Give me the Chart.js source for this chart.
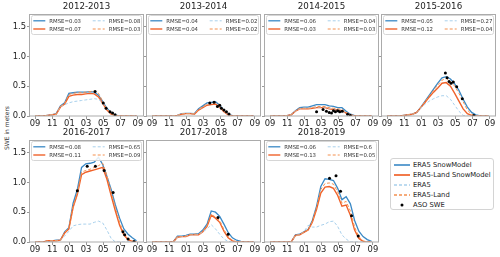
<!DOCTYPE html>
<html>
<head>
<meta charset="utf-8">
<script src="https://cdn.jsdelivr.net/npm/chart.js@4/dist/chart.umd.min.js"></script>
<style>
  body { margin: 0; width: 500px; height: 257px; overflow: hidden; background: #fff; position: relative; font-family: "DejaVu Sans", sans-serif; }
  canvas { position: absolute; }
  #ylabel { position: absolute; left: 6px; top: 128px; transform: translate(-50%, -50%) rotate(-90deg); font-size: 6px; color: #333; white-space: nowrap; }
  #legend { position: absolute; left: 390px; top: 158px; width: 104px; height: 52px; border: 1px solid #d4d4d4; border-radius: 3px; box-sizing: border-box; }
  #legend .row { position: absolute; left: 2px; height: 10px; font-size: 6.8px; color: #222; line-height: 10px; }
  #legend svg { position: absolute; left: 0; top: 0; }
  #legend span { position: absolute; left: 20px; top: 0; white-space: nowrap; }
</style>
</head>
<body>
<div id="ylabel">SWE in meters</div>
<div id="legend"></div>
<script>
const seasons = ["2012-2013", "2013-2014", "2014-2015", "2015-2016", "2016-2017", "2017-2018", "2018-2019"];
// days since 1 September, every 15 days
const days = [0, 15, 30, 45, 60, 75, 90, 105, 120, 135, 150, 165, 180, 195, 210, 225, 240, 255, 270, 285, 300, 315, 330, 345, 360];
const monthTicks = [0, 61, 122, 181, 242, 303, 365];
const monthLabels = ["09", "11", "01", "03", "05", "07", "09"];
const sweTicks = [0, 0.5, 1.0, 1.5];

const era5SnowModel = [
    [0, 0, 0, 0.01, 0.02, 0.04, 0.17, 0.22, 0.38, 0.39, 0.40, 0.40, 0.40, 0.41, 0.40, 0.35, 0.24, 0.13, 0.05, 0.015, 0, 0, 0, 0, 0],
    [0, 0, 0, 0, 0, 0, 0.01, 0.04, 0.045, 0.045, 0.04, 0.12, 0.17, 0.22, 0.23, 0.24, 0.18, 0.09, 0.03, 0.005, 0, 0, 0, 0, 0],
    [0, 0, 0, 0, 0.005, 0.02, 0.09, 0.14, 0.15, 0.15, 0.17, 0.19, 0.19, 0.19, 0.17, 0.16, 0.14, 0.14, 0.08, 0.03, 0.005, 0, 0, 0, 0],
    [0, 0, 0, 0, 0.01, 0.02, 0.03, 0.06, 0.15, 0.25, 0.35, 0.45, 0.55, 0.64, 0.66, 0.62, 0.54, 0.43, 0.28, 0.15, 0.06, 0.02, 0, 0, 0],
    [0, 0, 0, 0.02, 0.02, 0.03, 0.03, 0.17, 0.24, 0.65, 0.88, 1.25, 1.31, 1.32, 1.34, 1.42, 1.30, 1.10, 0.88, 0.62, 0.40, 0.22, 0.13, 0.07, 0.02],
    [0, 0, 0, 0, 0, 0, 0.10, 0.10, 0.11, 0.13, 0.13, 0.14, 0.20, 0.30, 0.52, 0.50, 0.43, 0.30, 0.16, 0.07, 0.03, 0.01, 0, 0, 0],
    [0, 0, 0, 0, 0, 0, 0.12, 0.13, 0.17, 0.21, 0.36, 0.60, 0.93, 1.06, 1.05, 1.03, 0.90, 0.71, 0.76, 0.64, 0.36, 0.18, 0.09, 0.04, 0.01]
];
const landSnowModel = [
    [0, 0, 0, 0.01, 0.02, 0.03, 0.15, 0.20, 0.33, 0.35, 0.36, 0.36, 0.37, 0.38, 0.37, 0.32, 0.21, 0.10, 0.03, 0.01, 0, 0, 0, 0, 0],
    [0, 0, 0, 0, 0, 0, 0.01, 0.03, 0.04, 0.04, 0.03, 0.10, 0.14, 0.18, 0.19, 0.20, 0.15, 0.07, 0.02, 0, 0, 0, 0, 0, 0],
    [0, 0, 0, 0, 0.005, 0.02, 0.08, 0.12, 0.12, 0.12, 0.13, 0.14, 0.14, 0.14, 0.12, 0.11, 0.10, 0.09, 0.05, 0.02, 0, 0, 0, 0, 0],
    [0, 0, 0, 0, 0.01, 0.02, 0.03, 0.06, 0.14, 0.23, 0.32, 0.40, 0.47, 0.55, 0.56, 0.50, 0.38, 0.25, 0.12, 0.04, 0.01, 0, 0, 0, 0],
    [0, 0, 0, 0.02, 0.02, 0.02, 0.03, 0.15, 0.22, 0.58, 0.80, 1.13, 1.17, 1.19, 1.21, 1.23, 1.25, 1.05, 0.78, 0.52, 0.28, 0.12, 0.04, 0.01, 0],
    [0, 0, 0, 0, 0, 0, 0.08, 0.09, 0.09, 0.12, 0.12, 0.12, 0.17, 0.26, 0.45, 0.40, 0.33, 0.18, 0.07, 0.02, 0, 0, 0, 0, 0],
    [0, 0, 0, 0, 0, 0, 0.11, 0.12, 0.16, 0.20, 0.33, 0.55, 0.82, 0.92, 0.93, 0.90, 0.78, 0.60, 0.62, 0.45, 0.20, 0.06, 0.01, 0, 0]
];
const era5 = [
    [0, 0, 0, 0.01, 0.02, 0.03, 0.16, 0.19, 0.22, 0.24, 0.25, 0.26, 0.27, 0.28, 0.29, 0.28, 0.22, 0.12, 0.04, 0.01, 0, 0, 0, 0, 0],
    [0, 0, 0, 0, 0, 0, 0.01, 0.04, 0.04, 0.04, 0.035, 0.11, 0.15, 0.20, 0.21, 0.22, 0.16, 0.08, 0.02, 0, 0, 0, 0, 0, 0],
    [0, 0, 0, 0, 0.005, 0.02, 0.08, 0.12, 0.13, 0.13, 0.14, 0.15, 0.15, 0.15, 0.13, 0.12, 0.11, 0.10, 0.05, 0.015, 0, 0, 0, 0, 0],
    [0, 0, 0, 0, 0.01, 0.02, 0.03, 0.06, 0.13, 0.20, 0.25, 0.29, 0.32, 0.34, 0.34, 0.28, 0.18, 0.08, 0.01, 0, 0, 0, 0, 0, 0],
    [0, 0, 0, 0.01, 0.02, 0.02, 0.03, 0.10, 0.18, 0.27, 0.29, 0.30, 0.30, 0.30, 0.33, 0.35, 0.32, 0.20, 0.06, 0, 0, 0, 0, 0, 0],
    [0, 0, 0, 0, 0, 0, 0.08, 0.09, 0.10, 0.12, 0.12, 0.13, 0.17, 0.22, 0.29, 0.22, 0.13, 0.05, 0.01, 0, 0, 0, 0, 0, 0],
    [0, 0, 0, 0, 0, 0, 0.11, 0.12, 0.17, 0.28, 0.25, 0.25, 0.28, 0.30, 0.34, 0.35, 0.26, 0.12, 0.05, 0, 0, 0, 0, 0, 0]
];
const era5Land = [
    [0, 0, 0, 0.01, 0.02, 0.03, 0.16, 0.21, 0.36, 0.38, 0.39, 0.39, 0.40, 0.41, 0.42, 0.38, 0.25, 0.12, 0.04, 0.01, 0, 0, 0, 0, 0],
    [0, 0, 0, 0, 0, 0, 0.01, 0.035, 0.04, 0.04, 0.035, 0.11, 0.16, 0.20, 0.21, 0.22, 0.17, 0.08, 0.025, 0, 0, 0, 0, 0, 0],
    [0, 0, 0, 0, 0.005, 0.02, 0.08, 0.13, 0.13, 0.13, 0.14, 0.16, 0.16, 0.16, 0.14, 0.13, 0.12, 0.11, 0.06, 0.02, 0, 0, 0, 0, 0],
    [0, 0, 0, 0, 0.01, 0.02, 0.03, 0.06, 0.15, 0.24, 0.34, 0.43, 0.52, 0.60, 0.63, 0.58, 0.50, 0.38, 0.24, 0.10, 0.03, 0, 0, 0, 0],
    [0, 0, 0, 0.02, 0.02, 0.02, 0.03, 0.16, 0.23, 0.60, 0.82, 1.17, 1.20, 1.22, 1.25, 1.28, 1.32, 1.12, 0.84, 0.58, 0.33, 0.15, 0.06, 0.02, 0],
    [0, 0, 0, 0, 0, 0, 0.09, 0.09, 0.10, 0.12, 0.13, 0.13, 0.18, 0.27, 0.46, 0.42, 0.36, 0.21, 0.09, 0.03, 0, 0, 0, 0, 0],
    [0, 0, 0, 0, 0, 0, 0.11, 0.12, 0.17, 0.20, 0.34, 0.58, 0.88, 0.98, 0.99, 0.97, 0.84, 0.65, 0.68, 0.52, 0.25, 0.09, 0.02, 0, 0]
];
const asoDays = [
    [213, 242, 252, 266, 275, 284],
    [205, 220, 232, 240, 246, 255, 264, 273],
    [165, 188, 200, 210, 218, 225, 232, 240, 247, 256, 275, 285],
    [207, 213, 220, 227, 235, 247, 267, 308],
    [150, 185, 214, 245, 277, 312, 318, 330, 351],
    [234, 270],
    [211, 234, 250, 289, 313]
];
const asoSwe = [
    [0.41, 0.22, 0.13, 0.07, 0.05, 0.02],
    [0.22, 0.23, 0.16, 0.18, 0.13, 0.10, 0.07, 0.035],
    [0.07, 0.11, 0.08, 0.06, 0.05, 0.09, 0.07, 0.09, 0.07, 0.08, 0.03, 0.01],
    [0.72, 0.64, 0.58, 0.55, 0.57, 0.49, 0.29, 0.01],
    [0.86, 1.27, 1.27, 1.20, 0.83, 0.17, 0.12, 0.05, 0.01],
    [0.41, 0.13],
    [1.07, 1.11, 0.85, 0.44, 0.10]
];
const rmseEra5SnowModel = ["0.03", "0.04", "0.06", "0.05", "0.08", null, "0.06"];
const rmseLandSnowModel = ["0.07", "0.04", "0.03", "0.12", "0.11", null, "0.13"];
const rmseEra5 = ["0.08", "0.02", "0.04", "0.27", "0.65", null, "0.6"];
const rmseLand = ["0.03", "0.02", "0.03", "0.04", "0.09", null, "0.05"];

const styles = [
    { label: "ERA5 SnowModel", color: "#3a89c6", width: 1.3, dash: [] },
    { label: "ERA5-Land SnowModel", color: "#f0622a", width: 1.4, dash: [] },
    { label: "ERA5", color: "#a8d0ec", width: 1, dash: [3, 2] },
    { label: "ERA5-Land", color: "#f4904f", width: 1, dash: [3, 2] }
];

const panelLefts = [30, 147, 265, 382];
const panelTops = [14, 140];
const AXIS_W = 30, TITLE_H = 14, AXIS_H = 20, PAD_R = 5;
const PANEL_W = 113, PANEL_H = 102;

function toPoints(xs, ys) {
    return xs.map((x, i) => ({ x, y: ys[i] }));
}

const framePlugin = {
    id: "frame",
    afterDraw(chart) {
        const { ctx, chartArea: a } = chart;
        ctx.save();
        ctx.strokeStyle = "#ababab";
        ctx.lineWidth = 1;
        ctx.strokeRect(Math.round(a.left) - 0.5, Math.round(a.top) + 0.5, Math.round(a.right - a.left) + 1, Math.round(a.bottom - a.top) - 0.5);
        ctx.restore();
    },
};

const innerLegendPlugin = {
    id: "innerLegend",
    afterDraw(chart, args, opts) {
        if (!opts.items) return;
        const { ctx, chartArea: a } = chart;
        ctx.save();
        ctx.fillStyle = "rgba(255,255,255,0.85)";
        ctx.strokeStyle = "#d6d6d6";
        ctx.lineWidth = 1;
        ctx.beginPath();
        ctx.roundRect(a.left + 1.5, a.top + 1.5, a.right - a.left - 3, 19, 2);
        ctx.fill();
        ctx.stroke();
        ctx.font = "5.4px 'DejaVu Sans'";
        ctx.textBaseline = "middle";
        opts.items.forEach((item, i) => {
            const col = i >> 1;
            const row = i & 1;
            const x0 = a.left + (col ? 62.7 : 3.3);
            const y = a.top + (row ? 15 : 6.8);
            ctx.strokeStyle = item.color;
            ctx.lineWidth = item.width;
            ctx.setLineDash(item.dash);
            ctx.beginPath();
            ctx.moveTo(x0, y);
            ctx.lineTo(x0 + 12, y);
            ctx.stroke();
            ctx.setLineDash([]);
            ctx.fillStyle = "#333";
            ctx.fillText(item.text, x0 + 16, y + 0.3);
        });
        ctx.restore();
    },
};

seasons.forEach((season, s) => {
    const col = s % 4;
    const row = Math.floor(s / 4);
    const canvas = document.createElement("canvas");
    canvas.width = AXIS_W + PANEL_W + PAD_R;
    canvas.height = TITLE_H + PANEL_H + AXIS_H;
    canvas.style.left = (panelLefts[col] - AXIS_W) + "px";
    canvas.style.top = (panelTops[row] - TITLE_H) + "px";
    document.body.appendChild(canvas);

    const seriesValues = [era5SnowModel[s], landSnowModel[s], era5[s], era5Land[s]];
    const datasets = styles.map((st, k) => ({
        label: st.label,
        data: toPoints(days, seriesValues[k]),
        borderColor: st.color,
        borderWidth: st.width,
        borderDash: st.dash,
        pointRadius: 0,
        tension: 0,
        fill: false,
        order: 4 - k,
    }));
    datasets.push({
        label: "ASO SWE",
        data: toPoints(asoDays[s], asoSwe[s]),
        showLine: false,
        pointRadius: 1.5,
        pointBackgroundColor: "#000",
        pointBorderWidth: 0,
        order: 0,
    });

    const rmse = [rmseEra5SnowModel[s], rmseLandSnowModel[s], rmseEra5[s], rmseLand[s]];
    const legendItems = rmse[0] ? styles.map((st, k) => ({ ...st, text: "RMSE=" + rmse[k] })) : null;

    new Chart(canvas, {
        type: "line",
        data: { datasets },
        options: {
            responsive: false,
            animation: false,
            devicePixelRatio: 1,
            layout: { padding: { left: 0, right: PAD_R, top: 0, bottom: 0 } },
            plugins: {
                legend: { display: false },
                tooltip: { enabled: false },
                title: {
                    display: true,
                    text: season,
                    fullSize: false,
                    color: "#222",
                    font: { family: "DejaVu Sans", size: 8.7, weight: "normal" },
                    padding: { top: 2, bottom: 1.56 },
                },
                innerLegend: { items: legendItems },
            },
            scales: {
                x: {
                    type: "linear",
                    min: -18,
                    max: 383,
                    afterBuildTicks: (scale) => { scale.ticks = monthTicks.map((v) => ({ value: v })); },
                    afterFit: (scale) => { scale.height = AXIS_H; },
                    ticks: {
                        autoSkip: false,
                        maxRotation: 0,
                        padding: 0,
                        color: "#222",
                        font: { family: "DejaVu Sans", size: 8.4 },
                        callback: (v) => monthLabels[monthTicks.indexOf(v)],
                    },
                    grid: { drawOnChartArea: false, tickLength: 3, color: "#999" },
                    border: { display: false },
                },
                y: {
                    min: 0,
                    max: 1.71,
                    afterBuildTicks: (scale) => { scale.ticks = sweTicks.map((v) => ({ value: v })); },
                    afterFit: (scale) => { scale.width = AXIS_W; },
                    ticks: {
                        padding: 1,
                        color: "#222",
                        font: { family: "DejaVu Sans", size: 8.4 },
                        callback: (v) => (col === 0 ? v.toFixed(1) : ""),
                    },
                    grid: { drawOnChartArea: false, tickLength: 3, color: "#999" },
                    border: { display: false },
                },
            },
        },
        plugins: [framePlugin, innerLegendPlugin],
    });
});

// shared legend
const legendBox = document.getElementById("legend");
const legendEntries = [...styles, { label: "ASO SWE", dot: true }];
legendEntries.forEach((entry, i) => {
    const rowDiv = document.createElement("div");
    rowDiv.className = "row";
    rowDiv.style.top = (1 + i * 10) + "px";
    const sample = entry.dot
        ? `<svg width="18" height="10"><circle cx="9" cy="5" r="1.5" fill="#000"/></svg>`
        : `<svg width="18" height="10"><line x1="1" y1="5" x2="17" y2="5" stroke="${entry.color}" stroke-width="${entry.width + 0.3}" stroke-dasharray="${entry.dash.join(" ")}"/></svg>`;
    rowDiv.innerHTML = sample + `<span>${entry.label}</span>`;
    legendBox.appendChild(rowDiv);
});
</script>
</body>
</html>
